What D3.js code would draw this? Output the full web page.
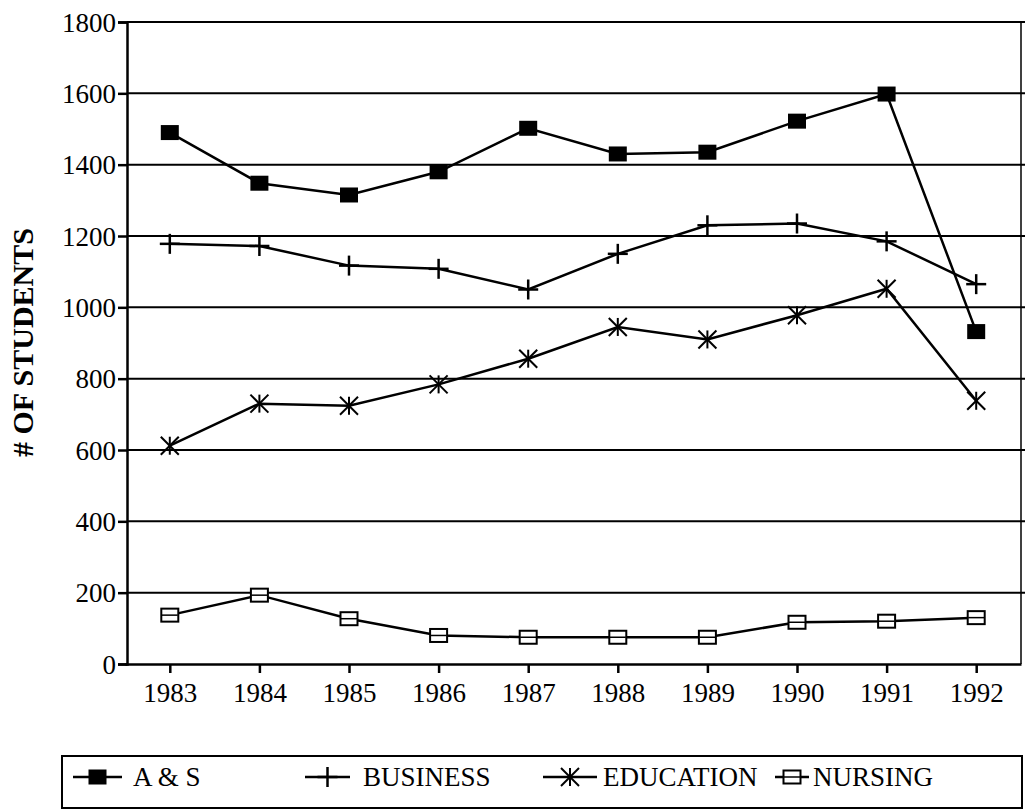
<!DOCTYPE html>
<html>
<head>
<meta charset="utf-8">
<script src="https://cdn.jsdelivr.net/npm/d3@7"></script>
<style>
  body { margin: 0; background: #fff; }
  svg { display: block; }
  text { font-family: "Liberation Serif", "Times New Roman", serif; fill: #000; }
</style>
</head>
<body>
<svg id="chart" width="1026" height="810"></svg>
<script>
const years = ["1983","1984","1985","1986","1987","1988","1989","1990","1991","1992"];
const aands     = [1490, 1348, 1315, 1380, 1502, 1430, 1435, 1522, 1598, 932];
const business  = [1178, 1172, 1117, 1108, 1050, 1150, 1230, 1235, 1185, 1065];
const education = [612, 730, 724, 784, 856, 945, 910, 978, 1052, 738];
const nursing   = [137, 193, 127, 80, 75, 75, 75, 117, 120, 130];
const yTicks = [0, 200, 400, 600, 800, 1000, 1200, 1400, 1600, 1800];
const seriesNames = ["A & S", "BUSINESS", "EDUCATION", "NURSING"];
const yTitle = "# OF STUDENTS";

const svg = d3.select("#chart");
const pL = 127, pR = 1021, pT = 22, pB = 664;

const x = d3.scalePoint().domain(years).range([pL - 2, pR]).padding(0.5);
const y = d3.scaleLinear().domain([0, 1800]).range([pB, pT]);

// gridlines
svg.append("g").selectAll("line").data(yTicks.filter(d => d > 0)).join("line")
  .attr("x1", pL).attr("x2", pR + 4)
  .attr("y1", d => y(d)).attr("y2", d => y(d))
  .attr("stroke", "#000").attr("stroke-width", 2);

// right border
svg.append("line").attr("x1", pR).attr("x2", pR).attr("y1", pT).attr("y2", pB)
  .attr("stroke", "#000").attr("stroke-width", 1.5);

// y axis
const yAxis = svg.append("g").attr("transform", `translate(${pL},0)`)
  .call(d3.axisLeft(y).tickValues(yTicks).tickSize(9).tickPadding(2).tickFormat(d3.format("d")));
yAxis.select(".domain").attr("stroke-width", 2.5);
yAxis.selectAll(".tick line").attr("stroke-width", 2.5);
yAxis.selectAll("text").style("font-size", "27px").attr("dy", "0.34em")
  .style("font-family", "'Liberation Serif', serif");

// x axis
const xAxis = svg.append("g").attr("transform", `translate(0,${pB})`)
  .call(d3.axisBottom(x).tickSize(9).tickPadding(10).tickSizeOuter(0));
xAxis.select(".domain").attr("stroke-width", 2.5);
xAxis.selectAll(".tick line").attr("stroke-width", 2.5);
xAxis.selectAll("text").style("font-size", "27px")
  .style("font-family", "'Liberation Serif', serif");

// y title
svg.append("text")
  .attr("transform", `translate(33,${(228 + 457) / 2}) rotate(-90)`)
  .attr("text-anchor", "middle")
  .style("font-size", "30px").style("font-weight", "bold")
  .text(yTitle);

const line = d3.line().x((d, i) => x(years[i])).y(d => y(d));

// markers
function drawMarker(g, type, cx, cy) {
  if (type === 0) {
    g.append("rect").attr("x", cx - 9).attr("y", cy - 7.5).attr("width", 18).attr("height", 15)
      .attr("fill", "#000");
  } else if (type === 1) {
    g.append("line").attr("x1", cx - 10).attr("x2", cx + 10).attr("y1", cy).attr("y2", cy)
      .attr("stroke", "#000").attr("stroke-width", 2.5);
    g.append("line").attr("x1", cx).attr("x2", cx).attr("y1", cy - 10).attr("y2", cy + 10)
      .attr("stroke", "#000").attr("stroke-width", 2.5);
  } else if (type === 2) {
    const r = 9;
    [[-r, -r, r, r], [-r, r, r, -r], [0, -r, 0, r]].forEach(s => {
      g.append("line").attr("x1", cx + s[0]).attr("y1", cy + s[1]).attr("x2", cx + s[2]).attr("y2", cy + s[3])
        .attr("stroke", "#000").attr("stroke-width", 2);
    });
  } else {
    g.append("rect").attr("x", cx - 8.5).attr("y", cy - 6.5).attr("width", 17).attr("height", 13)
      .attr("fill", "#fff").attr("stroke", "#000").attr("stroke-width", 2);
    g.append("line").attr("x1", cx - 8).attr("x2", cx + 8).attr("y1", cy).attr("y2", cy)
      .attr("stroke", "#000").attr("stroke-width", 1.5);
  }
}

const allSeries = [aands, business, education, nursing];
allSeries.forEach((vals, si) => {
  const g = svg.append("g");
  g.append("path").datum(vals).attr("d", line)
    .attr("fill", "none").attr("stroke", "#000").attr("stroke-width", 2.5);
  vals.forEach((v, i) => drawMarker(g, si, x(years[i]), y(v)));
});

// legend
const lg = svg.append("g");
lg.append("rect").attr("x", 62).attr("y", 756).attr("width", 960).attr("height", 52)
  .attr("fill", "none").attr("stroke", "#000").attr("stroke-width", 2);
const legendItems = [
  { x1: 73, x2: 122, tx: 133 },
  { x1: 305, x2: 350, tx: 363 },
  { x1: 543, x2: 597, tx: 603 },
  { x1: 775, x2: 809, tx: 813 }
];
const ly = 777;
legendItems.forEach((it, i) => {
  lg.append("line").attr("x1", it.x1).attr("x2", it.x2).attr("y1", ly).attr("y2", ly)
    .attr("stroke", "#000").attr("stroke-width", 2.5);
  drawMarker(lg, i, (it.x1 + it.x2) / 2, ly);
  lg.append("text").attr("x", it.tx).attr("y", ly + 9)
    .style("font-size", "27px").text(seriesNames[i]);
});
</script>
</body>
</html>
